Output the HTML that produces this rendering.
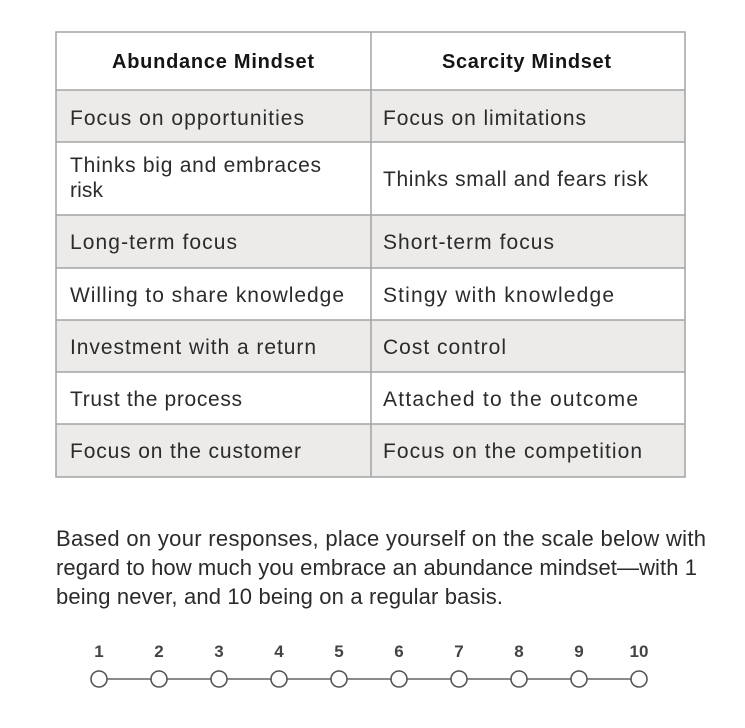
<!DOCTYPE html>
<html><head><meta charset="utf-8"><style>
html,body{margin:0;padding:0;background:#fff;width:745px;height:728px;overflow:hidden}
svg{display:block}
text{font-family:"Liberation Sans",sans-serif;fill:#2b2b2b}
</style></head><body>
<svg width="745" height="728" viewBox="0 0 745 728" xmlns="http://www.w3.org/2000/svg">
<g fill="#ecebea">
<rect x="56" y="90" width="629" height="52"/>
<rect x="56" y="215" width="629" height="53"/>
<rect x="56" y="320" width="629" height="52"/>
<rect x="56" y="424" width="629" height="53"/>
</g>
<g stroke="#a3a3a3" stroke-width="1.5" fill="none">
<rect x="56" y="32" width="629" height="445"/>
<line x1="371" y1="32" x2="371" y2="477"/>
<line x1="56" y1="90" x2="685" y2="90"/>
<line x1="56" y1="142" x2="685" y2="142"/>
<line x1="56" y1="215" x2="685" y2="215"/>
<line x1="56" y1="268" x2="685" y2="268"/>
<line x1="56" y1="320" x2="685" y2="320"/>
<line x1="56" y1="372" x2="685" y2="372"/>
<line x1="56" y1="424" x2="685" y2="424"/>
</g>
<g font-size="20" font-weight="bold">
<text x="112" y="68" textLength="202" style="fill:#151515">Abundance Mindset</text>
<text x="442" y="68" textLength="169" style="fill:#151515">Scarcity Mindset</text>
</g>
<g font-size="21">
<text x="70" y="125" textLength="234">Focus on opportunities</text>
<text x="383" y="125" textLength="203">Focus on limitations</text>
<text x="70" y="172" textLength="251">Thinks big and embraces</text>
<text x="70" y="197" textLength="33">risk</text>
<text x="383" y="186" textLength="265">Thinks small and fears risk</text>
<text x="70" y="249" textLength="167">Long-term focus</text>
<text x="383" y="249" textLength="171">Short-term focus</text>
<text x="70" y="302" textLength="274">Willing to share knowledge</text>
<text x="383" y="302" textLength="231">Stingy with knowledge</text>
<text x="70" y="354" textLength="246">Investment with a return</text>
<text x="383" y="354" textLength="123">Cost control</text>
<text x="70" y="406" textLength="172">Trust the process</text>
<text x="383" y="406" textLength="255">Attached to the outcome</text>
<text x="70" y="458" textLength="231">Focus on the customer</text>
<text x="383" y="458" textLength="259">Focus on the competition</text>
</g>
<g font-size="22">
<text x="56" y="546" textLength="650">Based on your responses, place yourself on the scale below with</text>
<text x="56" y="575" textLength="641">regard to how much you embrace an abundance mindset—with 1</text>
<text x="56" y="604" textLength="447">being never, and 10 being on a regular basis.</text>
</g>
<line x1="99" y1="679" x2="639" y2="679" stroke="#8a8a8a" stroke-width="2"/>
<g fill="#fff" stroke="#555" stroke-width="1.6">
<circle cx="99" cy="679" r="8"/><circle cx="159" cy="679" r="8"/><circle cx="219" cy="679" r="8"/><circle cx="279" cy="679" r="8"/><circle cx="339" cy="679" r="8"/><circle cx="399" cy="679" r="8"/><circle cx="459" cy="679" r="8"/><circle cx="519" cy="679" r="8"/><circle cx="579" cy="679" r="8"/><circle cx="639" cy="679" r="8"/>
</g>
<g font-size="17" font-weight="bold" text-anchor="middle">
<text x="99" y="657" style="fill:#444">1</text><text x="159" y="657" style="fill:#444">2</text><text x="219" y="657" style="fill:#444">3</text><text x="279" y="657" style="fill:#444">4</text><text x="339" y="657" style="fill:#444">5</text><text x="399" y="657" style="fill:#444">6</text><text x="459" y="657" style="fill:#444">7</text><text x="519" y="657" style="fill:#444">8</text><text x="579" y="657" style="fill:#444">9</text><text x="639" y="657" style="fill:#444">10</text>
</g>
</svg>
</body></html>
